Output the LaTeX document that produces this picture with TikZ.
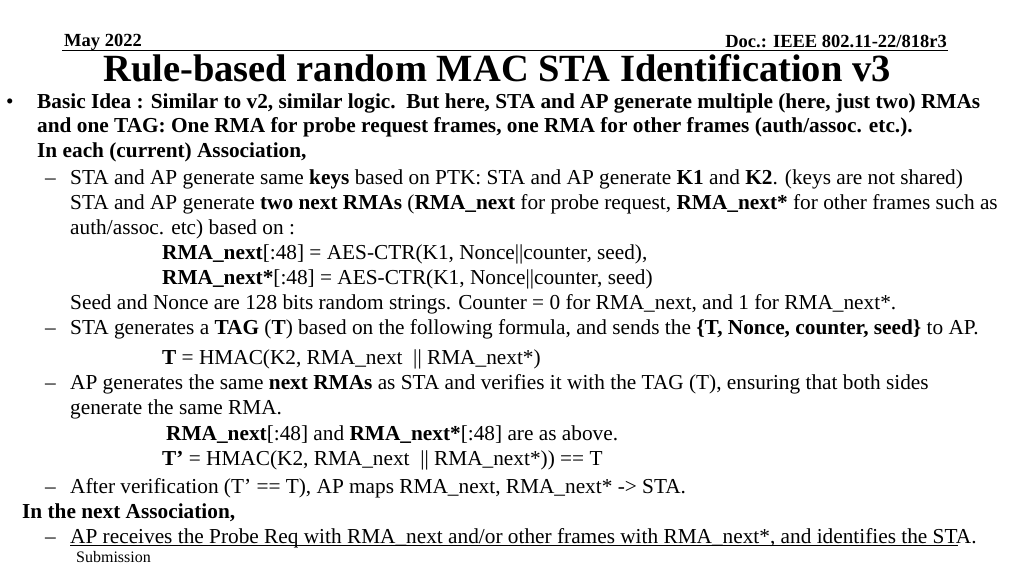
\documentclass[tikz,border=0pt]{standalone}
\usepackage{fontspec}
\setmainfont{Liberation Serif}
\begin{document}
\begin{tikzpicture}[x=1pt,y=-1pt,
  t/.style={anchor=base west,inner sep=0pt,font=\fontsize{21.3}{24}\selectfont},
  tb/.style={t,font=\fontsize{21.3}{24}\selectfont\bfseries}]
\useasboundingbox (0,0) rectangle (1024,576);
\node[anchor=base west,inner sep=0pt,font=\fontsize{18.5}{20}\selectfont\bfseries] (date) at (64,46) {May 2022};
\node[anchor=base east,inner sep=0pt,font=\fontsize{18.5}{20}\selectfont\bfseries] (doc) at (947,47) {Doc.: IEEE 802.11-22/818r3};
\draw[line width=0.8pt] (62,50) -- (948,50);
\node[anchor=base,inner sep=0pt,font=\fontsize{38.5}{40}\selectfont\bfseries] (title) at (497,81) {Rule-based random MAC STA Identification v3};
\node[t] (b) at (6,108) {•};
\node[tb] (l1) at (37,108) {Basic Idea : Similar to v2, similar logic.\ \ But here, STA and AP generate multiple (here, just two) RMAs};
\node[tb] (l2) at (37,132) {and one TAG: One RMA for probe request frames, one RMA for other frames (auth/assoc. etc.).};
\node[tb] (l3) at (37,157) {In each (current) Association,};
\node[t] (d1) at (45,184) {–};
\node[t] (l4) at (70,184) {STA and AP generate same \textbf{keys} based on PTK: STA and AP generate \textbf{K1} and \textbf{K2}. (keys are not shared)};
\node[t] (l5) at (70,209) {STA and AP generate \textbf{two next RMAs} (\textbf{RMA\_next} for probe request, \textbf{RMA\_next*} for other frames such as};
\node[t] (l6) at (70,234) {auth/assoc. etc) based on :};
\node[t] (l7) at (162,259) {\textbf{RMA\_next}[:48] = AES-CTR(K1, Nonce\textbar\textbar counter, seed),};
\node[t] (l8) at (162,284) {\textbf{RMA\_next*}[:48] = AES-CTR(K1, Nonce\textbar\textbar counter, seed)};
\node[t] (l9) at (70,309) {Seed and Nonce are 128 bits random strings. Counter = 0 for RMA\_next, and 1 for RMA\_next*.};
\node[t] (d2) at (45,334) {–};
\node[t] (l10) at (70,334) {STA generates a \textbf{TAG} (\textbf{T}) based on the following formula, and sends the \textbf{\{T, Nonce, counter, seed\}} to AP.};
\node[t] (l11) at (162,364) {\textbf{T} = HMAC(K2, RMA\_next\ \ \textbar\textbar\ RMA\_next*)};
\node[t] (d3) at (45,389) {–};
\node[t] (l12) at (70,389) {AP generates the same \textbf{next RMAs} as STA and verifies it with the TAG (T), ensuring that both sides};
\node[t] (l13) at (70,414) {generate the same RMA.};
\node[t] (l14) at (166,440) {\textbf{RMA\_next}[:48] and \textbf{RMA\_next*}[:48] are as above.};
\node[t] (l15) at (162,465) {\textbf{T’} = HMAC(K2, RMA\_next\ \ \textbar\textbar\ RMA\_next*)) == T};
\node[t] (d4) at (45,493) {–};
\node[t] (l16) at (70,493) {After verification (T’ == T), AP maps RMA\_next, RMA\_next* -> STA.};
\node[tb] (l17) at (22,518) {In the next Association,};
\node[t] (d5) at (45,543) {–};
\node[t] (l18) at (70,543) {AP receives the Probe Req with RMA\_next and/or other frames with RMA\_next*, and identifies the STA.};
\draw[line width=0.7pt] (l18.base west)++(0,2) -- ++(888,0);
\node[anchor=base west,inner sep=0pt,font=\fontsize{16}{18}\selectfont] (sub) at (76,562) {Submission};
\end{tikzpicture}
\end{document}
